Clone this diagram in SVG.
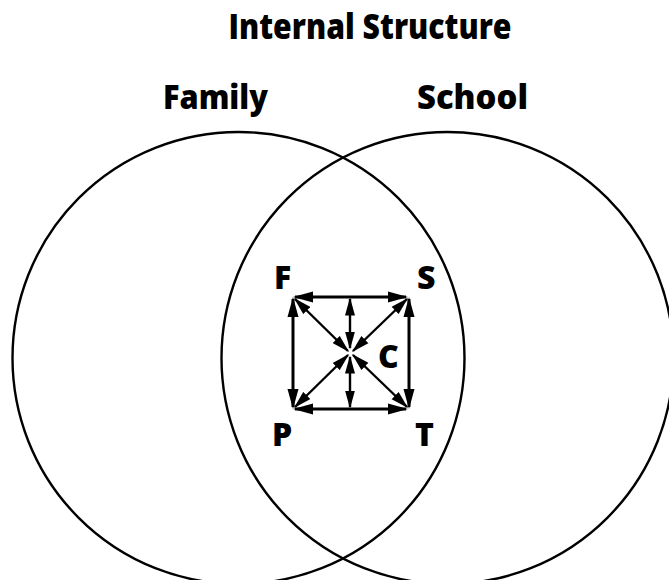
<svg xmlns="http://www.w3.org/2000/svg" width="669" height="580" viewBox="0 0 669 580">
<style>
.t{font-family:"Open Sans","Noto Sans","Liberation Sans",sans-serif;font-weight:800;fill:#000}
.h{font-size:36px;text-anchor:middle}
.s{font-size:33px;text-anchor:middle}
.n{font-size:32px}
.ring{fill:none;stroke:#000;stroke-width:2.4}
.a{fill:none;stroke:#000;stroke-width:3;marker-start:url(#ah);marker-end:url(#ah)}
.d{fill:none;stroke:#000;stroke-width:2.4;marker-start:url(#ah2);marker-end:url(#ah2)}
</style>
<defs>
<marker id="ah" markerUnits="userSpaceOnUse" markerWidth="20" markerHeight="12" refX="18" refY="6" orient="auto-start-reverse" viewBox="0 0 20 12">
<path d="M0,0.5 L20,6 L0,11.5 z" fill="#000"/>
</marker>
<marker id="ah2" markerUnits="userSpaceOnUse" markerWidth="18" markerHeight="11" refX="16.5" refY="5.5" orient="auto-start-reverse" viewBox="0 0 18 11">
<path d="M0,0.5 L18,5.5 L0,10.5 z" fill="#000"/>
</marker>
</defs>
<g id="title"><text class="t h" x="370" y="39" textLength="283" lengthAdjust="spacingAndGlyphs">Internal Structure</text></g>
<g id="family">
<circle class="ring" cx="238.5" cy="358" r="226"/>
<text class="t s" x="215.5" y="109" textLength="105" lengthAdjust="spacingAndGlyphs">Family</text>
</g>
<g id="school">
<circle class="ring" cx="447.5" cy="358" r="226"/>
<text class="t s" x="472.5" y="109" textLength="111" lengthAdjust="spacingAndGlyphs">School</text>
</g>
<g id="node-F"><text class="t n" x="274" y="289">F</text></g>
<g id="node-S"><text class="t n" x="417" y="289">S</text></g>
<g id="node-P"><text class="t n" x="272" y="446">P</text></g>
<g id="node-T"><text class="t n" x="415" y="446">T</text></g>
<g id="node-C"><text class="t n" x="378" y="368">C</text></g>
<g id="connectors">
<line class="a" x1="295" y1="297" x2="406" y2="297"/>
<line class="a" x1="295" y1="409" x2="406" y2="409"/>
<line class="a" x1="293" y1="299" x2="293" y2="407"/>
<line class="a" x1="409" y1="299" x2="409" y2="407"/>
<line class="d" x1="350" y1="299" x2="350" y2="348"/>
<line class="d" x1="350" y1="357" x2="350" y2="407"/>
<line class="d" x1="295" y1="299" x2="348" y2="351"/>
<line class="d" x1="407" y1="299" x2="353" y2="351"/>
<line class="d" x1="295" y1="407" x2="348" y2="355"/>
<line class="d" x1="407" y1="407" x2="353" y2="355"/>
</g>
</svg>
